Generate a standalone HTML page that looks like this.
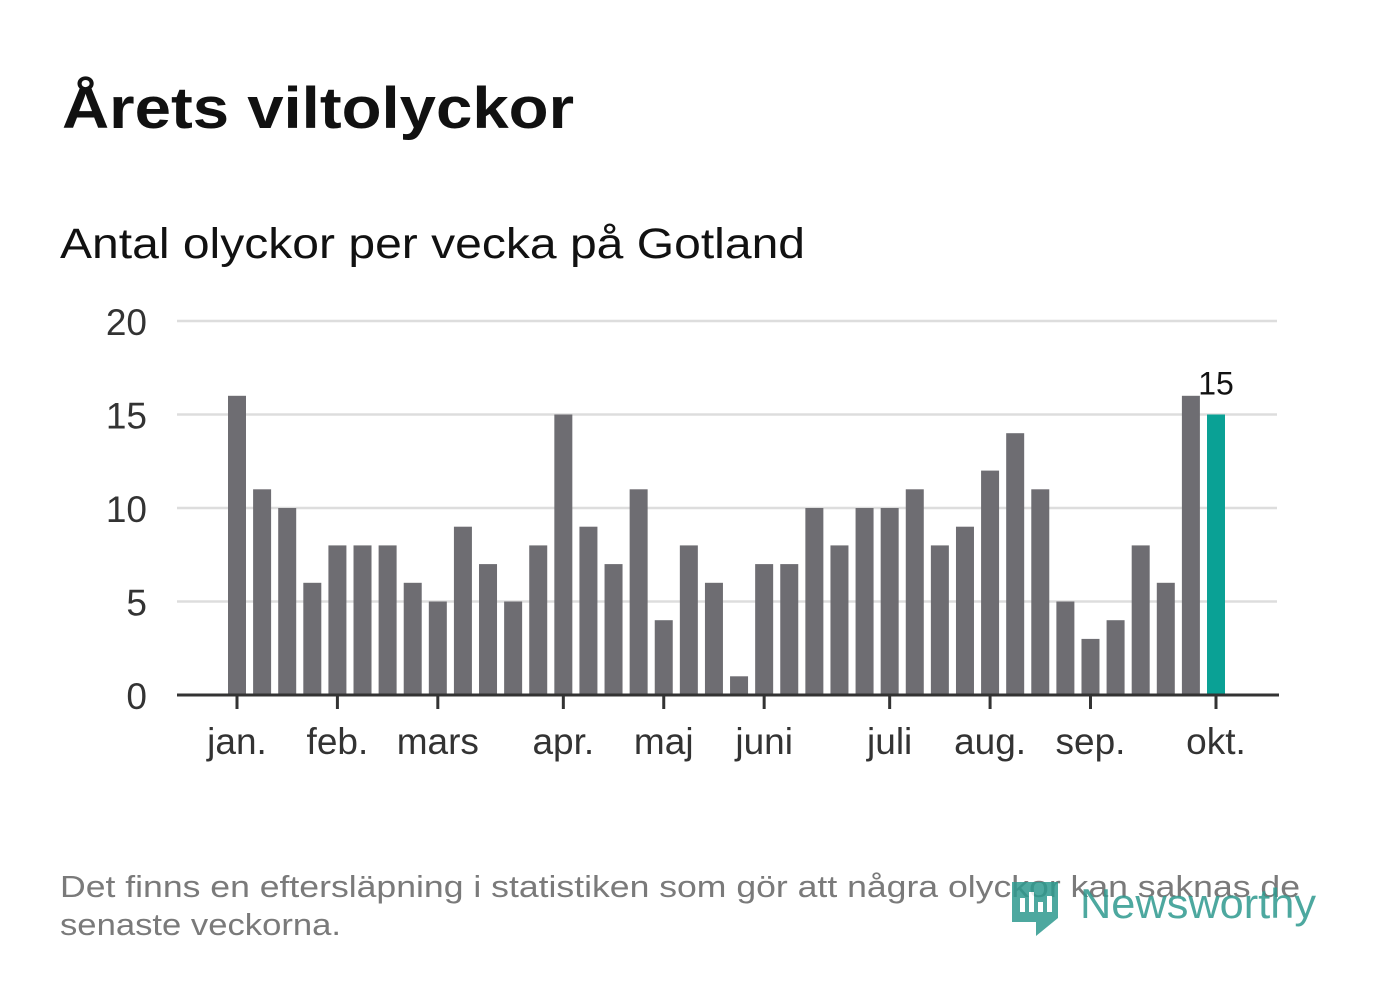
<!DOCTYPE html>
<html><head><meta charset="utf-8">
<style>
body{margin:0;background:#fff;width:1382px;height:999px;overflow:hidden;font-family:"Liberation Sans","Noto Sans CJK JP",sans-serif;}
svg{position:absolute;left:0;top:0}
</style></head>
<body>
<svg width="1382" height="999">
<text x="62" y="128" font-size="58" font-weight="bold" fill="#111" textLength="512" lengthAdjust="spacingAndGlyphs">Årets viltolyckor</text>
<text x="60" y="258" font-size="43" fill="#111" textLength="745" lengthAdjust="spacingAndGlyphs">Antal olyckor per vecka på Gotland</text>
<g id="grid"></g>
<g id="bars"></g>
<g id="axis"></g>
<text x="60" y="897" font-size="31" fill="#7a7a7a" textLength="1240" lengthAdjust="spacingAndGlyphs">Det finns en eftersläpning i statistiken som gör att några olyckor kan saknas de</text>
<text x="60" y="935" font-size="31" fill="#7a7a7a" textLength="281" lengthAdjust="spacingAndGlyphs">senaste veckorna.</text>
<g opacity="0.85">
<path d="M1012 882 h46 v36 l-22 18 v-14 h-24 z" fill="#2e9a8f"/>
<rect x="1020" y="898" width="5" height="14" fill="#fff"/><rect x="1029" y="892" width="5" height="20" fill="#fff"/><rect x="1038" y="902" width="5" height="10" fill="#fff"/><rect x="1047" y="896" width="5" height="16" fill="#fff"/>
<text x="1080" y="918" font-size="42" fill="#2e9a8f" textLength="236" lengthAdjust="spacingAndGlyphs">Newsworthy</text>
</g>
</svg>
<script>
const values=[16,11,10,6,8,8,8,6,5,9,7,5,8,15,9,7,11,4,8,6,1,7,7,10,8,10,10,11,8,9,12,14,11,5,3,4,8,6,16,15];
const yTicks=[0,5,10,15,20];
const monthLabels=["jan.","feb.","mars","apr.","maj","juni","juli","aug.","sep.","okt."];
const monthIdx=[0,4,8,13,17,21,26,30,34,39];
const NS="http://www.w3.org/2000/svg";
const x=i=>237+i*(1216-237)/39;
const y=v=>695-v*(695-321)/20;
function mk(t,a,p){const e=document.createElementNS(NS,t);for(const k in a)e.setAttribute(k,a[k]);p.appendChild(e);return e;}
const grid=document.getElementById('grid'),bars=document.getElementById('bars'),axis=document.getElementById('axis');
yTicks.forEach(t=>{
 if(t>0){const l=mk('line',{x1:177,x2:1277,y1:y(t),y2:y(t),stroke:'#ddd','stroke-width':2.5},grid);
 
 }
 const tx=mk('text',{x:147,y:y(t)+14,'font-size':37,fill:'#333','text-anchor':'end'},grid);tx.textContent=t;
 
 
});
values.forEach((v,i)=>{
 const last=i===values.length-1;
 const r=mk('rect',{x:x(i)-9,y:y(v),width:18,height:y(0)-y(v),fill:last?'#0aa195':'#6e6d72'},bars);
 
 
 if(last){const t=mk('text',{x:x(i),y:y(v)-20,'font-size':32,fill:'#111','text-anchor':'middle'},bars);t.textContent=v;
 
 }
});
const ax=mk('line',{x1:177,x2:1279,y1:695,y2:695,stroke:'#333','stroke-width':3},axis);


monthIdx.forEach((m,k)=>{
 const tk=mk('line',{x1:x(m),x2:x(m),y1:695,y2:709,stroke:'#333','stroke-width':3},axis);
 
 
 const t=mk('text',{x:x(m),y:754,'font-size':37,fill:'#333','text-anchor':'middle'},axis);t.textContent=monthLabels[k];
 
 
});
</script>
</body></html>
